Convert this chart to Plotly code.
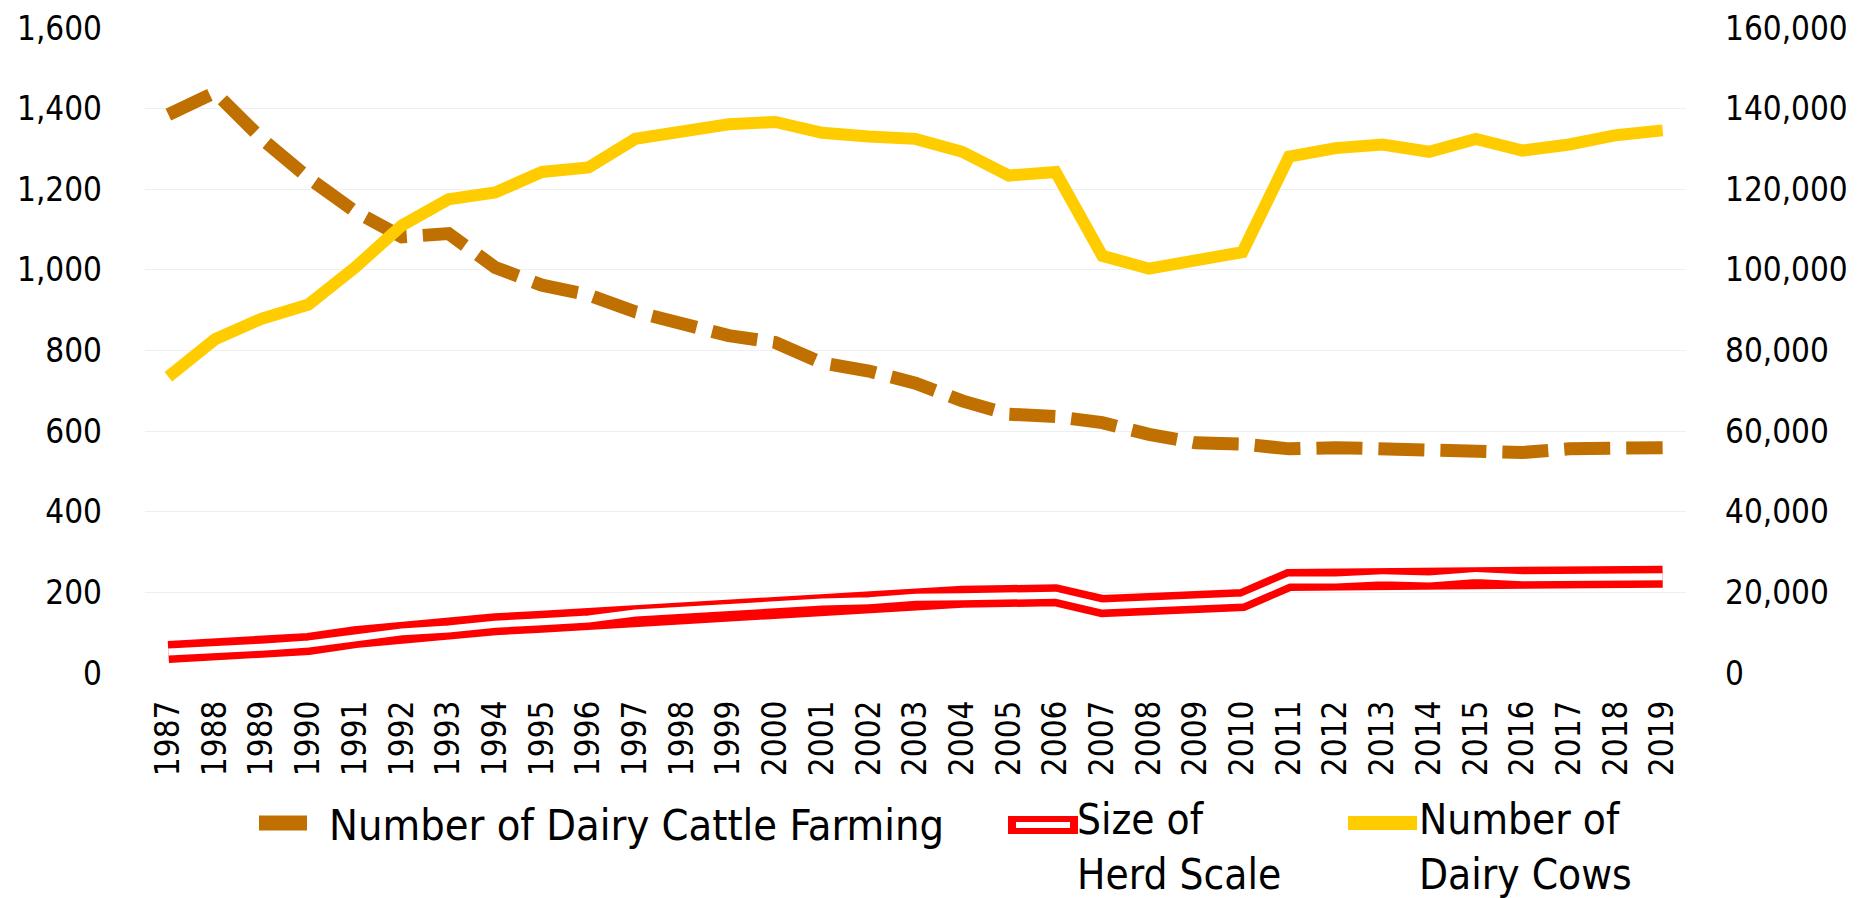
import plotly.graph_objects as go

years = ["1987", "1988", "1989", "1990", "1991", "1992", "1993", "1994", "1995", "1996",
         "1997", "1998", "1999", "2000", "2001", "2002", "2003", "2004", "2005", "2006",
         "2007", "2008", "2009", "2010", "2011", "2012", "2013", "2014", "2015", "2016",
         "2017", "2018", "2019"]

# Number of Dairy Cattle Farming (left axis)
farms = [1385, 1440, 1325, 1228, 1145, 1082, 1090, 1006, 962, 938,
         896, 867, 837, 820, 769, 749, 719, 675, 642, 636,
         621, 592, 571, 568, 556, 559, 556, 553, 550, 547,
         556, 556, 559]

# Size of Herd Scale (left axis)
herd = [52, 57, 64, 72, 89, 102, 109, 121, 127, 134,
        149, 156, 162, 167, 176, 179, 188, 189, 191, 193,
        166, 169, 176, 181, 231, 231, 236, 233, 242, 236,
        236, 239, 239]

# Number of Dairy Cows (right axis)
cows = [73500, 82800, 87900, 91400, 100600, 111000, 117500, 119200, 124300, 125400,
        132500, 134000, 136100, 136700, 134000, 133100, 132500, 129300, 123400, 124300,
        103500, 100300, 102100, 104400, 128100, 130200, 131100, 129300, 132500, 129600,
        131100, 133400, 134600]

names = ["Number of Dairy Cattle Farming", "Size of<br>Herd Scale", "Number of<br>Dairy Cows"]

BROWN = "#C07000"
RED = "#FF0000"
YELLOW = "#FFCC00"
FONT = "DejaVu Sans Condensed, DejaVu Sans, sans-serif"

OFF = 8  # default page body margin
W, H = 1870 - OFF, 898 - OFF
L, R, T, B = 145 - OFF, 184, 28 - OFF, 225
PW, PH = W - L - R, H - T - B


def px(x):
    return (x - OFF - L) / PW


def py(y):
    return (H - B - (y - OFF)) / PH


fig = go.Figure()
fig.add_trace(go.Scatter(x=years, y=farms, mode="lines", name="Number of Dairy Cattle Farming",
                         line=dict(color=BROWN, width=13, dash="46px,16px"), showlegend=False))
fig.add_trace(go.Scatter(x=years, y=herd, mode="lines", name="Size of Herd Scale",
                         line=dict(color=RED, width=22), showlegend=False))
fig.add_trace(go.Scatter(x=years, y=herd, mode="lines", name="Size of Herd Scale",
                         line=dict(color="white", width=7), showlegend=False, hoverinfo="skip"))
fig.add_trace(go.Scatter(x=years, y=cows, mode="lines", name="Number of Dairy Cows", yaxis="y2",
                         line=dict(color=YELLOW, width=12), showlegend=False))

shapes = [
    dict(type="line", xref="paper", yref="paper", x0=px(259), x1=px(307), y0=py(823), y1=py(823),
         line=dict(color=BROWN, width=15)),
    dict(type="line", xref="paper", yref="paper", x0=px(1008), x1=px(1078), y0=py(825), y1=py(825),
         line=dict(color=RED, width=18)),
    dict(type="line", xref="paper", yref="paper", x0=px(1016), x1=px(1070), y0=py(825), y1=py(825),
         line=dict(color="white", width=6)),
    dict(type="line", xref="paper", yref="paper", x0=px(1348), x1=px(1417), y0=py(823), y1=py(823),
         line=dict(color=YELLOW, width=14)),
]

annotations = [
    dict(text=names[0], x=px(327), y=py(825), xref="paper", yref="paper", xanchor="left",
         yanchor="middle", showarrow=False, align="left", font=dict(family=FONT, size=43, color="black")),
    dict(text=names[1], x=px(1075), y=py(847), xref="paper", yref="paper", xanchor="left",
         yanchor="middle", showarrow=False, align="left", font=dict(family=FONT, size=42, color="black")),
    dict(text=names[2], x=px(1417), y=py(847), xref="paper", yref="paper", xanchor="left",
         yanchor="middle", showarrow=False, align="left", font=dict(family=FONT, size=42, color="black")),
]

fig.update_layout(
    width=W, height=H,
    margin=dict(l=L, r=R, t=T, b=B, pad=0),
    paper_bgcolor="white", plot_bgcolor="white",
    font=dict(family=FONT, color="black"),
    showlegend=False,
    xaxis=dict(type="category", range=[-0.5, len(years) - 0.5], tickangle=-90,
               tickfont=dict(size=33), showgrid=False, automargin=False,
               showline=False, zeroline=False, ticks="", ticklabelstandoff=20),
    yaxis=dict(range=[0, 1600], dtick=200, tickformat=",", tickfont=dict(size=33),
               showgrid=True, gridcolor="#efefef", gridwidth=1, zeroline=False, showline=False,
               ticks="", ticklabelstandoff=42, automargin=False),
    yaxis2=dict(range=[0, 160000], dtick=20000, tickformat=",", tickfont=dict(size=33),
                overlaying="y", side="right", showgrid=False, zeroline=False, showline=False,
                ticks="", ticklabelstandoff=38, automargin=False),
    shapes=shapes,
    annotations=annotations,
)

fig.write_html("out.html")
